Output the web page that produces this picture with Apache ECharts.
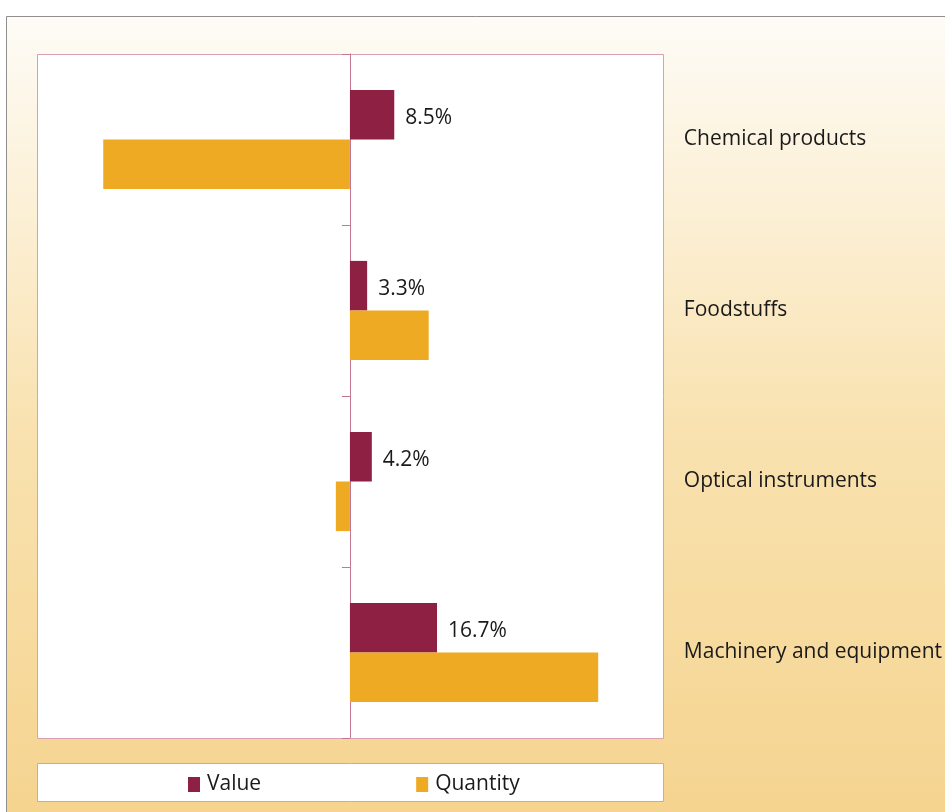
<!DOCTYPE html>
<html>
<head>
<meta charset="utf-8">
<script src="https://cdn.jsdelivr.net/npm/echarts@6/dist/echarts.min.js"></script>
<style>
  html, body { margin: 0; padding: 0; background: #fff; }
  #chart { width: 945px; height: 812px; }
</style>
</head>
<body>
<div id="chart"></div>
<script>
const categories = ['Chemical products', 'Foodstuffs', 'Optical instruments', 'Machinery and equipment'];
const valueData = [8.5, 3.3, 4.2, 16.7];
const quantityData = [-47.3, 15.1, -2.7, 47.6];
const seriesNames = ['Value', 'Quantity'];

const FONT = 'Open Sans';
const myChart = echarts.init(document.getElementById('chart'), null, {renderer: 'canvas'});

const option = {
  animation: false,
  textStyle: {fontFamily: FONT},
  graphic: [
    {
      type: 'rect',
      z: -10,
      shape: {x: 6.5, y: 16.5, width: 960, height: 820},
      style: {
        fill: new echarts.graphic.LinearGradient(0, 0, 0, 1, [
          {offset: 0, color: '#fefcf7'},
          {offset: 0.5, color: '#f9e2b0'},
          {offset: 1, color: '#f5d38e'}
        ]),
        stroke: '#8f8f8f',
        lineWidth: 1
      }
    },
    {
      type: 'rect',
      z: -5,
      shape: {x: 37.5, y: 54.5, width: 626, height: 684},
      style: {fill: '#ffffff', stroke: '#d9a0b2', lineWidth: 1}
    },
    {
      type: 'rect',
      z: -5,
      shape: {x: 37.5, y: 763.5, width: 626, height: 38},
      style: {fill: '#ffffff', stroke: '#d9a0b2', lineWidth: 1}
    }
  ],
  grid: {left: 37, right: 282, top: 54, bottom: 74, containLabel: false},
  legend: {
    data: seriesNames,
    left: 188,
    top: 774,
    padding: 0,
    itemWidth: 12,
    itemHeight: 15,
    itemGap: 155,
    icon: 'rect',
    textStyle: {fontFamily: FONT, fontSize: 21, color: '#1a1a1a', padding: [0, 0, 0, 2]}
  },
  xAxis: {
    type: 'value',
    min: -60,
    max: 60,
    axisLine: {show: false},
    axisTick: {show: false},
    axisLabel: {show: false},
    splitLine: {show: false}
  },
  yAxis: [
    {
      type: 'category',
      data: categories,
      inverse: true,
      axisLine: {onZero: true, lineStyle: {color: '#c27890', width: 1}},
      axisTick: {show: true, length: 8, lineStyle: {color: '#c27890'}},
      axisLabel: {show: false},
      splitLine: {show: false}
    },
    {
      type: 'category',
      data: categories,
      inverse: true,
      position: 'right',
      axisLine: {show: false, onZero: false},
      axisTick: {show: false},
      axisLabel: {margin: 21, fontFamily: FONT, fontSize: 21, color: '#1a1a1a', align: 'left', padding: [6, 0, 0, 0]}
    }
  ],
  series: [
    {
      name: seriesNames[0],
      type: 'bar',
      data: valueData,
      barGap: '0%',
      barCategoryGap: '42%',
      itemStyle: {color: '#8e2043'},
      label: {
        show: true,
        position: 'right',
        distance: 11,
        offset: [0, 3],
        fontFamily: FONT,
        fontSize: 21,
        color: '#1a1a1a',
        formatter: p => p.value.toFixed(1) + '%'
      }
    },
    {
      name: seriesNames[1],
      type: 'bar',
      data: quantityData,
      itemStyle: {color: '#efaa23'}
    }
  ]
};

myChart.setOption(option);
</script>
</body>
</html>
